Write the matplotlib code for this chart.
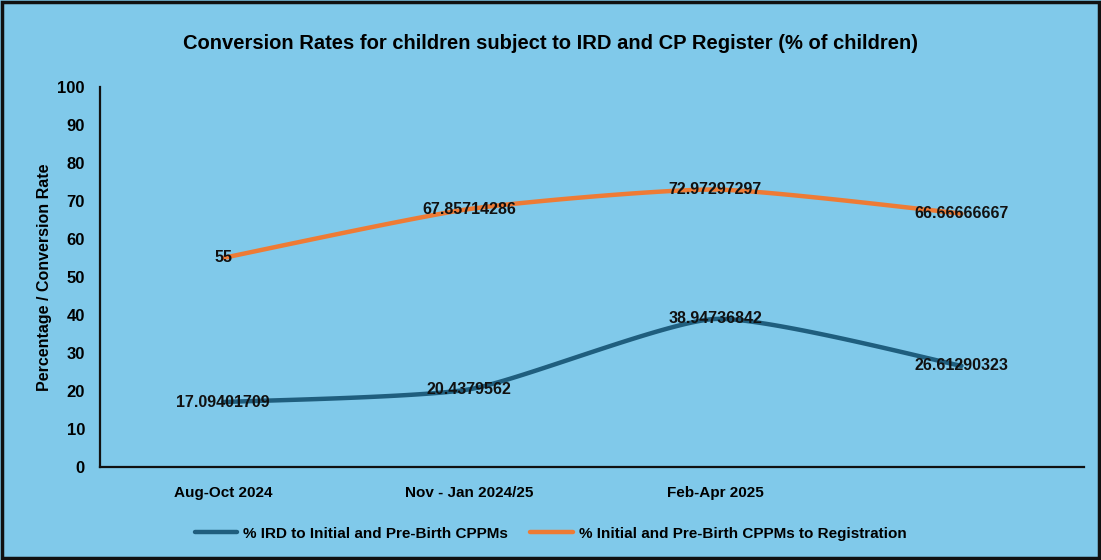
import numpy as np
import matplotlib.pyplot as plt

# chart data
periods = ["Aug-Oct 2024", "Nov - Jan 2024/25", "Feb-Apr 2025", ""]
ird_to_cppm = [17.09401709, 20.4379562, 38.94736842, 26.61290323]
cppm_to_reg = [55, 67.85714286, 72.97297297, 66.66666667]
ird_labels = ["17.09401709", "20.4379562", "38.94736842", "26.61290323"]
reg_labels = ["55", "67.85714286", "72.97297297", "66.66666667"]

bg = "#80C9EA"
blue = "#1F5E7E"
orange = "#EE7B35"
font = ["Liberation Sans", "DejaVu Sans"]


def smooth(x, y, k=1 / 10, n=40):
    # bezier smoothing through the points, like a spreadsheet's smoothed line
    x = np.asarray(x, float)
    y = np.asarray(y, float)
    px = np.concatenate([[x[0]], x, [x[-1]]])
    py = np.concatenate([[y[0]], y, [y[-1]]])
    xs, ys = [], []
    t = np.linspace(0, 1, n)
    for i in range(1, len(px) - 2):
        p0, p1, p2, p3 = (np.array([px[j], py[j]]) for j in range(i - 1, i + 3))
        c1 = p1 + (p2 - p0) * k
        c2 = p2 - (p3 - p1) * k
        b = ((1 - t) ** 3)[:, None] * p1 + (3 * (1 - t) ** 2 * t)[:, None] * c1 \
            + (3 * (1 - t) * t ** 2)[:, None] * c2 + (t ** 3)[:, None] * p2
        xs.extend(b[:, 0])
        ys.extend(b[:, 1])
    return np.array(xs), np.array(ys)


fig = plt.figure(figsize=(11.01, 5.6), dpi=100, facecolor=bg)
ax = fig.add_axes([0.091, 0.166, 0.894, 0.679])
ax.set_facecolor(bg)

x = np.arange(len(periods))
sx, sy = smooth(x, ird_to_cppm)
ax.plot(sx, sy, color=blue, lw=3.2, solid_capstyle="round",
        label="% IRD to Initial and Pre-Birth CPPMs")
sx, sy = smooth(x, cppm_to_reg)
ax.plot(sx, sy, color=orange, lw=3.2, solid_capstyle="round",
        label="% Initial and Pre-Birth CPPMs to Registration")

for xi, v, s in zip(x, ird_to_cppm, ird_labels):
    ax.text(xi, v, s, ha="center", va="center", fontsize=11.5,
            fontweight="bold", color="#111111", family=font)
for xi, v, s in zip(x, cppm_to_reg, reg_labels):
    ax.text(xi, v, s, ha="center", va="center", fontsize=11.5,
            fontweight="bold", color="#111111", family=font)

ax.set_xlim(-0.5, 3.5)
ax.set_ylim(0, 100)
ax.set_yticks(np.arange(0, 101, 10))
ax.set_xticks(x)
ax.set_xticklabels(periods)
ax.tick_params(axis="y", length=0, labelsize=12, pad=11)
ax.tick_params(axis="x", length=0, labelsize=11, pad=14)
for lab in ax.get_xticklabels() + ax.get_yticklabels():
    lab.set_fontweight("bold")
    lab.set_family(font)

for side in ["top", "right"]:
    ax.spines[side].set_visible(False)
for side in ["left", "bottom"]:
    ax.spines[side].set_color("#111111")
    ax.spines[side].set_linewidth(1.6)

ax.set_ylabel("Percentage / Conversion Rate", fontsize=11.5, fontweight="bold",
              family=font, labelpad=4)

fig.suptitle("Conversion Rates for children subject to IRD and CP Register (% of children)",
             x=0.5, y=0.94, fontsize=14.5, fontweight="bold", family=font)

leg = fig.legend(loc="center", bbox_to_anchor=(0.5, 0.047), ncol=2, frameon=False,
                 handlelength=2.8, handletextpad=0.4, columnspacing=1.4,
                 prop={"family": font, "weight": "bold", "size": 11})

# dark frame around the whole chart
fig.patches.append(plt.Rectangle((0.002, 0.004), 0.996, 0.992, transform=fig.transFigure,
                                 fill=False, edgecolor="#111111", lw=2.5))

fig.savefig("out.png", dpi=100, facecolor=bg)
